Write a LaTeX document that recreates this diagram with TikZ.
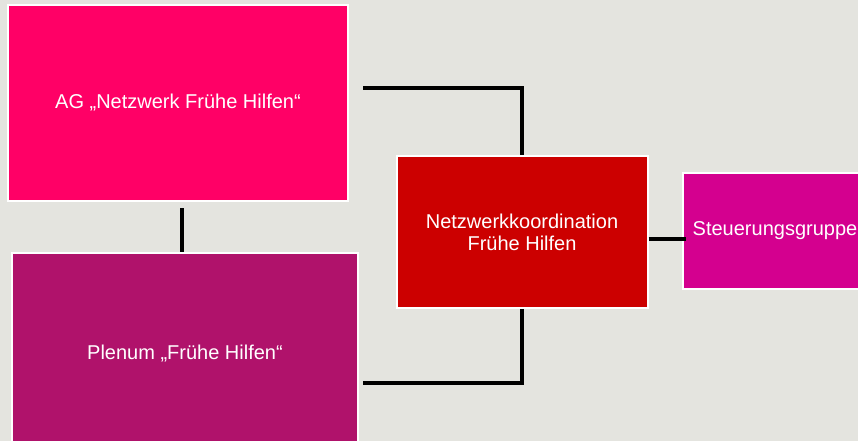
\documentclass[tikz,border=0pt]{standalone}
\usepackage{fontspec}
\setmainfont{Liberation Sans}
\definecolor{bggray}{HTML}{E4E4DF}
\definecolor{agpink}{HTML}{FF0066}
\definecolor{plenumpurple}{HTML}{B0126B}
\definecolor{koordred}{HTML}{CC0000}
\definecolor{steuermagenta}{HTML}{D4008F}
\begin{document}
\begin{tikzpicture}[x=1pt,y=-1pt,
  box/.style={draw=white,line width=2pt,text=white,align=center,inner sep=0pt,
    font=\fontsize{20}{22}\selectfont},
  link/.style={line width=4pt,black}]
\useasboundingbox (0,0) rectangle (858,441);
\fill[bggray] (0,0) rectangle (858,441);

\node[box,fill=agpink,minimum width=340pt,minimum height=196pt] (ag) at (178,103) {AG „Netzwerk Frühe Hilfen“};
\node[box,fill=plenumpurple,minimum width=346pt,minimum height=202pt] (plenum) at (185,354) {Plenum „Frühe Hilfen“};
\node[box,fill=koordred,minimum width=251pt,minimum height=152pt] (koord) at (522,232) {Netzwerkkoordination\\Frühe Hilfen};
\node[box,fill=steuermagenta,minimum width=184pt,minimum height=116pt] (steuer) at (775,231) {Steuerungsgruppe};

\coordinate (agout) at (363,88);
\coordinate (plout) at (363,383);
\coordinate (mid) at (182,0);
\draw[link] (agout) -| (koord.north);
\draw[link] (koord.south) |- (plout);
\draw[link,shorten <=6pt] (ag.south -| mid) -- (plenum.north -| mid);
\draw[link,shorten >=-4pt] ([yshift=-7pt]koord.east) -- ([yshift=-7pt]koord.east -| steuer.west);

\end{tikzpicture}
\end{document}
